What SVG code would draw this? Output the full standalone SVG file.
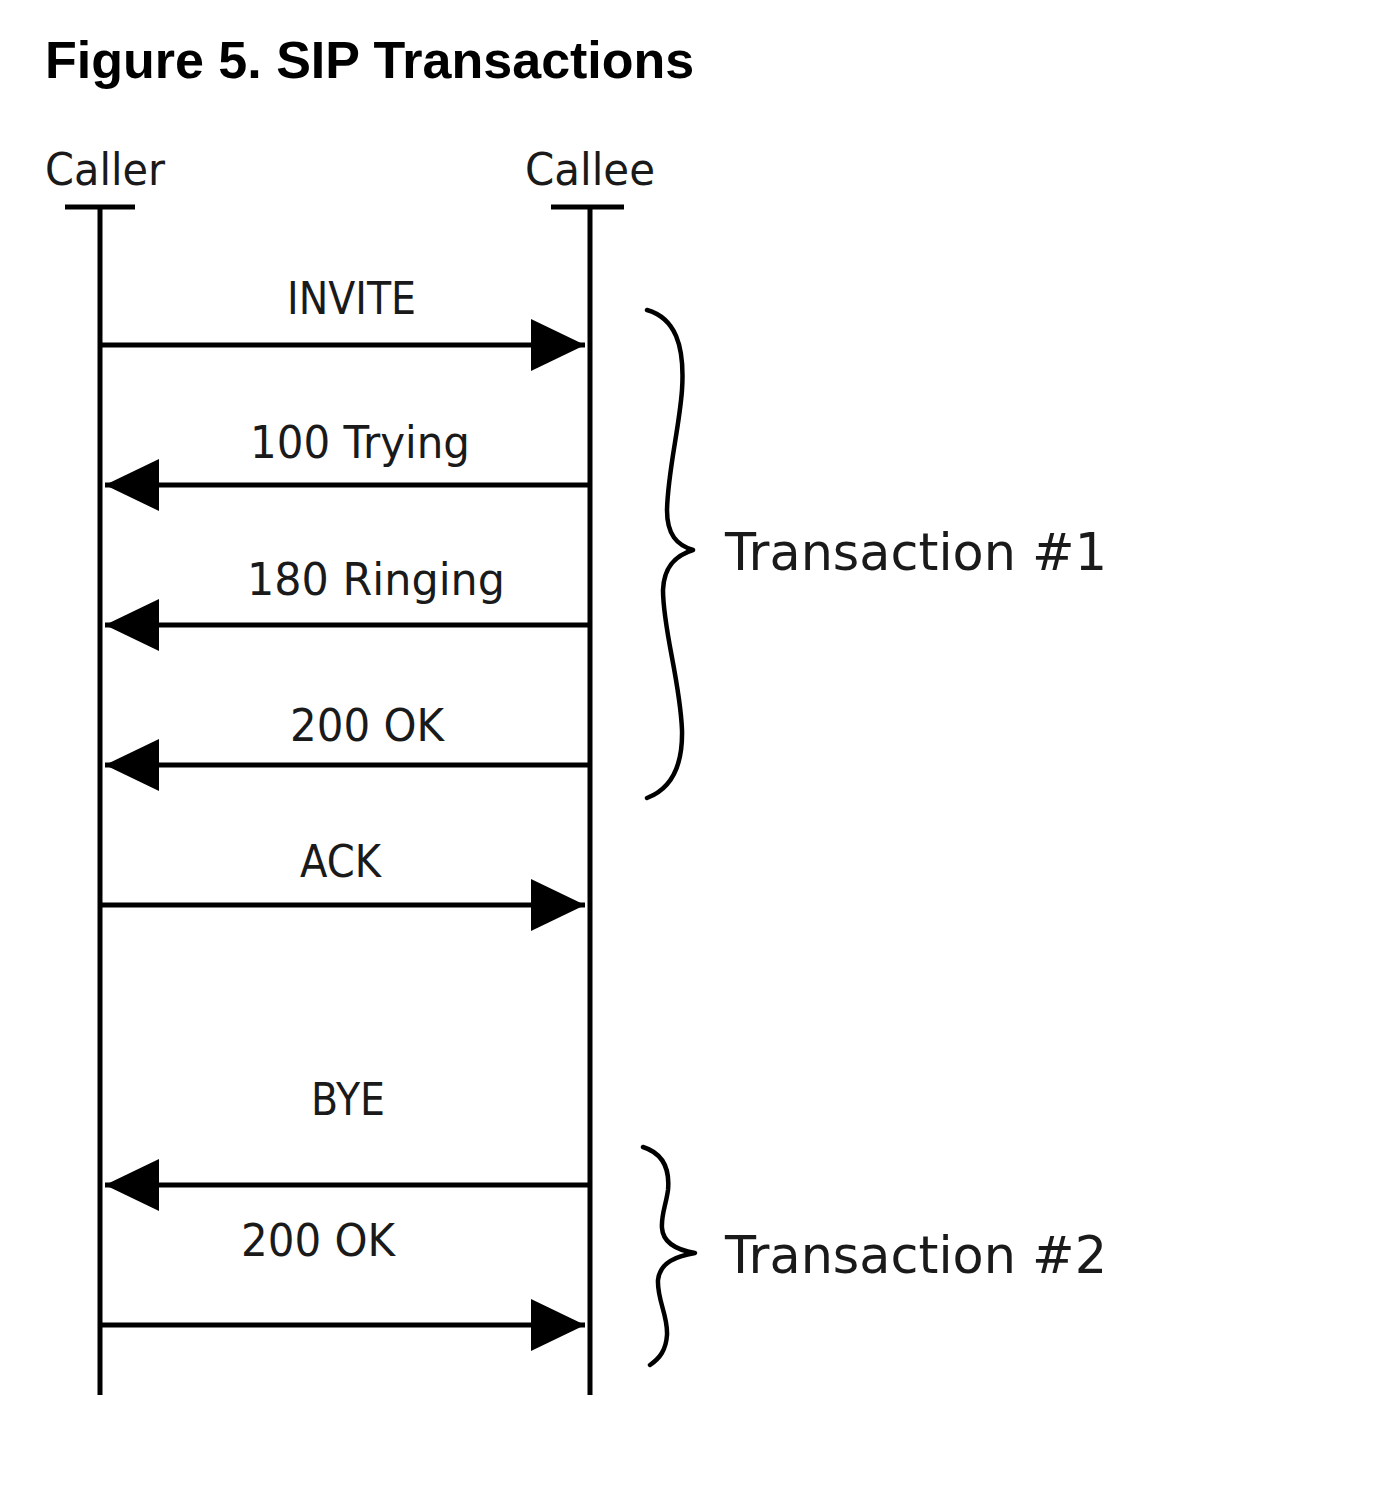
<svg xmlns="http://www.w3.org/2000/svg" width="1398" height="1492" viewBox="0 0 1398 1492">
<style>
.title{font-family:"Liberation Sans",Arial,sans-serif;font-weight:bold;font-size:52px;fill:#000}
.lbl{font-family:"DejaVu Sans","Noto Sans",sans-serif;font-size:44px;fill:#1a1a1a}
.tx{font-family:"DejaVu Sans","Noto Sans",sans-serif;font-size:52px;fill:#1a1a1a}
.life{stroke:#000;stroke-width:5;fill:none}
.msg{stroke:#000;stroke-width:5;fill:none;marker-end:url(#ah)}
.brace{stroke:#000;stroke-width:4.5;fill:none;stroke-linecap:round;stroke-linejoin:round}
</style>
<defs>
<marker id="ah" markerUnits="userSpaceOnUse" markerWidth="56" markerHeight="54" refX="54" refY="26" orient="auto" viewBox="0 0 56 54">
<path d="M0,0 L54,26 L0,52 Z" fill="#000"/>
</marker>
</defs>
<rect width="1398" height="1492" fill="#fff"/>
<text class="title" x="45" y="78">Figure 5. SIP Transactions</text>
<g id="caller">
<text class="lbl" x="45" y="185" textLength="120" lengthAdjust="spacingAndGlyphs">Caller</text>
<line class="life" x1="65" y1="207" x2="135" y2="207"/>
<line class="life" x1="100" y1="207" x2="100" y2="1395"/>
</g>
<g id="callee">
<text class="lbl" x="525" y="185" textLength="130" lengthAdjust="spacingAndGlyphs">Callee</text>
<line class="life" x1="551" y1="207" x2="624" y2="207"/>
<line class="life" x1="590" y1="207" x2="590" y2="1395"/>
</g>
<g id="connectors">
<line class="msg" x1="102" y1="345" x2="585" y2="345"/>
<line class="msg" x1="588" y1="485" x2="105" y2="485"/>
<line class="msg" x1="588" y1="625" x2="105" y2="625"/>
<line class="msg" x1="588" y1="765" x2="105" y2="765"/>
<line class="msg" x1="102" y1="905" x2="585" y2="905"/>
<line class="msg" x1="588" y1="1185" x2="105" y2="1185"/>
<line class="msg" x1="102" y1="1325" x2="585" y2="1325"/>
</g>
<g id="labels">
<text class="lbl" x="287" y="314" textLength="129" lengthAdjust="spacingAndGlyphs">INVITE</text>
<text class="lbl" x="250" y="458" textLength="220" lengthAdjust="spacingAndGlyphs">100 Trying</text>
<text class="lbl" x="247" y="595" textLength="258" lengthAdjust="spacingAndGlyphs">180 Ringing</text>
<text class="lbl" x="290" y="741" textLength="154" lengthAdjust="spacingAndGlyphs">200 OK</text>
<text class="lbl" x="300" y="877" textLength="81" lengthAdjust="spacingAndGlyphs">ACK</text>
<text class="lbl" x="311" y="1115" textLength="74" lengthAdjust="spacingAndGlyphs">BYE</text>
<text class="lbl" x="241" y="1256" textLength="154" lengthAdjust="spacingAndGlyphs">200 OK</text>
</g>
<g id="transaction1">
<path class="brace" d="M647,310 C675,318 685,345 682,390 C679,430 668,470 667,510 C667,535 677,545 693,550 C677,555 664,565 663,590 C663,630 680,680 682,730 C683,770 668,790 647,798"/>
<text class="tx" x="725" y="570" textLength="382" lengthAdjust="spacingAndGlyphs">Transaction #1</text>
</g>
<g id="transaction2">
<path class="brace" d="M643,1147 C662,1153 670,1168 668,1190 C666,1205 661,1215 662,1228 C663,1243 677,1250 695,1253 C677,1256 660,1262 658,1280 C657,1300 668,1315 667,1335 C666,1350 660,1358 650,1365"/>
<text class="tx" x="725" y="1273" textLength="382" lengthAdjust="spacingAndGlyphs">Transaction #2</text>
</g>
</svg>
